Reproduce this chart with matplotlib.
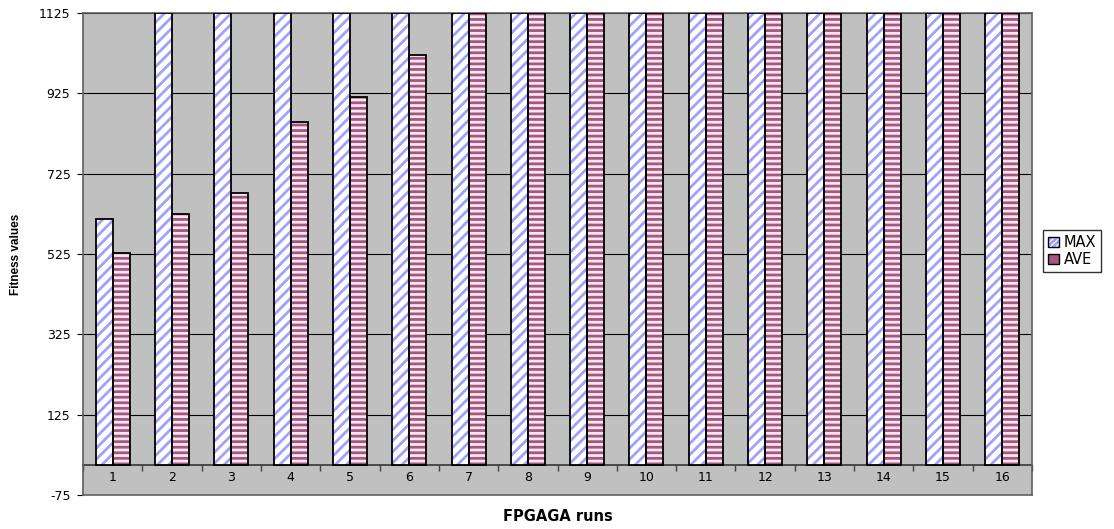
import matplotlib.pyplot as plt
from matplotlib.patches import Patch
from matplotlib.legend_handler import HandlerTuple
import numpy as np

plt.rcParams['font.family'] = ['DejaVu Sans']
plt.rcParams['hatch.linewidth'] = 2.0
plt.rcParams['axes.unicode_minus'] = False

# data
runs = [str(i) for i in range(1, 17)]
max_vals = [612, 1125, 1125, 1125, 1125, 1125, 1125, 1125,
            1125, 1125, 1125, 1125, 1125, 1125, 1125, 1125]
ave_vals = [527, 624, 678, 853, 915, 1021, 1125, 1125,
            1125, 1125, 1125, 1125, 1125, 1125, 1125, 1125]
y_ticks = [-75, 125, 325, 525, 725, 925, 1125]

max_hatch = '#a0a0ff'
ave_hatch = '#a8557f'
ave_face = '#f6e8f0'

fig = plt.figure(figsize=(11.14, 5.29), dpi=100)
ax = fig.add_axes([83 / 1114, 34 / 529, 949 / 1114, 482 / 529])
ax.set_facecolor('#c0c0c0')

x = np.arange(1, len(runs) + 1)
w = 0.287

# hatched fill, then black outline on top
ax.bar(x - w / 2, max_vals, w, color='white', edgecolor=max_hatch, hatch='///', linewidth=0, zorder=3)
ax.bar(x - w / 2, max_vals, w, fill=False, edgecolor='black', linewidth=1.3, zorder=4)
ax.bar(x + w / 2, ave_vals, w, color=ave_face, edgecolor=ave_hatch, hatch='---', linewidth=0, zorder=3)
ax.bar(x + w / 2, ave_vals, w, fill=False, edgecolor='black', linewidth=1.3, zorder=4)

ax.set_xlim(0.5, len(runs) + 0.5)
ax.set_ylim(-75, 1125)
ax.set_yticks(y_ticks)
ax.tick_params(axis='y', labelsize=9, length=4, pad=5, direction='out', colors='black')
ax.grid(axis='y', color='black', linewidth=0.8, zorder=1)
ax.set_axisbelow(True)

# category labels sit inside the plot area, below the zero line
ax.set_xticks(x)
ax.set_xticklabels(runs)
ax.tick_params(axis='x', length=0, pad=-17, labelsize=9)

# category axis crossing at zero with tick marks between groups
sec = ax.secondary_xaxis(75 / 1200)
sec.set_xticks(np.arange(0.5, len(runs) + 1, 1.0))
sec.set_xticklabels([])
sec.tick_params(length=4, width=1, color='#404040')
sec.spines['bottom'].set_color('#404040')
sec.spines['bottom'].set_linewidth(1.3)

for s in ['left', 'bottom', 'right', 'top']:
    ax.spines[s].set_color('#606060')
    ax.spines[s].set_linewidth(1.2)

ax.set_ylabel('Fitness values', fontsize=8.5, fontweight='bold', family='Liberation Sans', labelpad=12)
ax.set_xlabel('FPGAGA runs', fontsize=10.5, fontweight='bold', labelpad=10)

h_max = (Patch(facecolor='white', edgecolor=max_hatch, hatch='//////', linewidth=0),
         Patch(fill=False, edgecolor='black', linewidth=1))
h_ave = (Patch(facecolor=ave_face, edgecolor=ave_hatch, hatch='------', linewidth=0),
         Patch(fill=False, edgecolor='black', linewidth=1))
fig.legend([h_max, h_ave], ['MAX', 'AVE'], handler_map={tuple: HandlerTuple(ndivide=1)},
           loc='center left', bbox_to_anchor=(1043 / 1114, 1 - 251 / 529),
           fontsize=10.5, frameon=True, fancybox=False, edgecolor='black',
           handlelength=0.75, handleheight=0.7, handletextpad=0.3,
           borderpad=0.35, labelspacing=0.15, borderaxespad=0)

fig.savefig('out.png', dpi=100)
